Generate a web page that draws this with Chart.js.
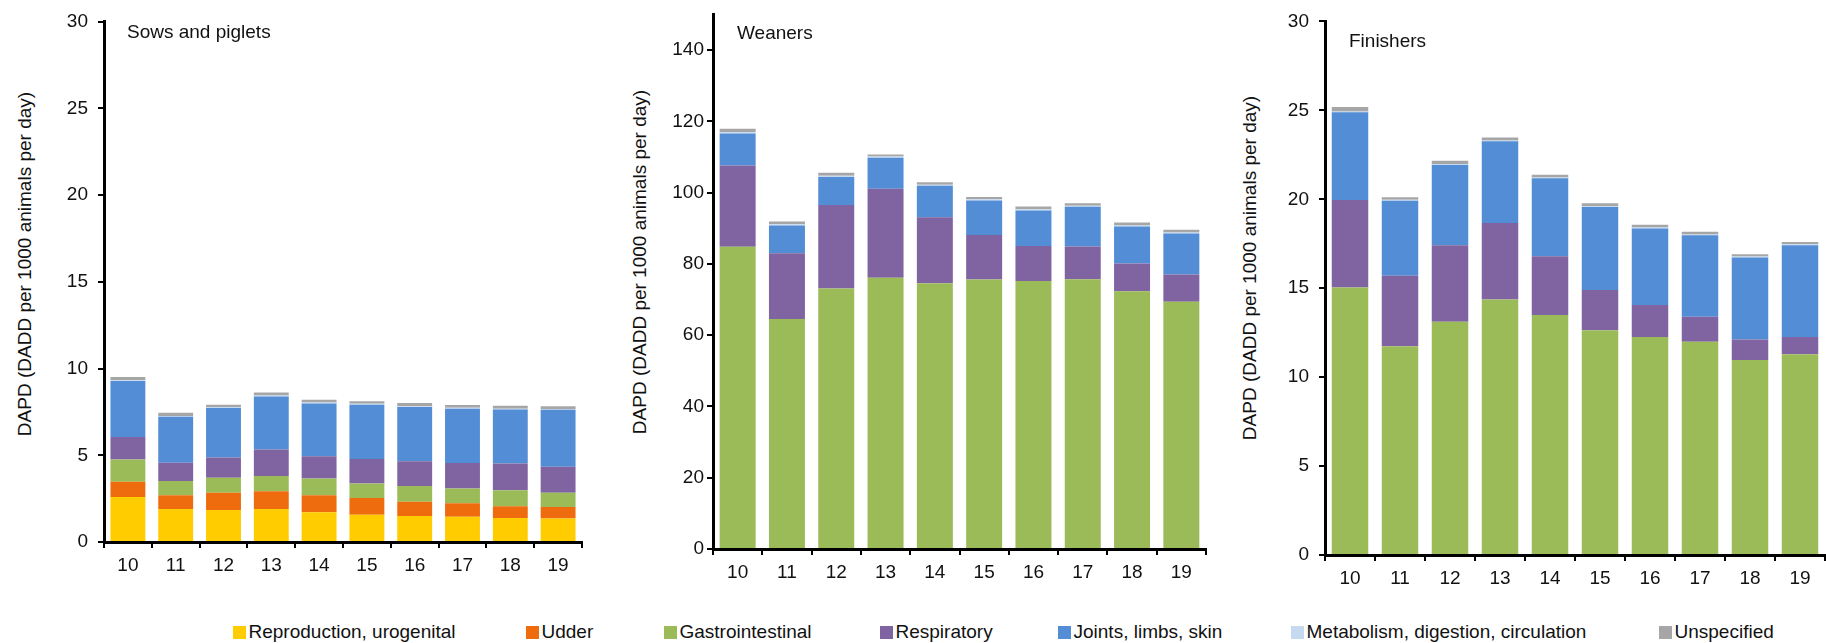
<!DOCTYPE html>
<html>
<head>
<meta charset="utf-8">
<script src="https://cdn.jsdelivr.net/npm/chart.js@4.4.1/dist/chart.umd.min.js"></script>
<style>
  body { margin: 0; background: #fff; }
  #wrap { position: relative; width: 1826px; height: 643px; font-family: 'Liberation Sans', Arial, sans-serif; color: #111; }
  canvas { position: absolute; top: 0; }
  .ttl { position: absolute; font-size: 19px; line-height: 22px; white-space: nowrap; }
  .ytl { position: absolute; font-size: 19px; white-space: nowrap; transform: translate(-50%, -50%) rotate(-90deg); }
  .leg { position: absolute; font-size: 19px; line-height: 22px; white-space: nowrap; }
  .leg span { position: absolute; width: 13px; height: 13px; left: -15.5px; top: 4.5px; }
</style>
</head>
<body>
<div id="wrap"></div>
<script>
var years = ['10', '11', '12', '13', '14', '15', '16', '17', '18', '19'];

var groups = ['Reproduction, urogenital', 'Udder', 'Gastrointestinal', 'Respiratory',
  'Joints, limbs, skin', 'Metabolism, digestion, circulation', 'Unspecified'];
var colors = ['#FFCC00', '#EE6C0E', '#9BBB59', '#8064A2', '#538DD5', '#C5D9F1', '#A6A6A6'];

// sows and piglets
var sowsRepro  = [2.60, 1.90, 1.85, 1.90, 1.71, 1.57, 1.50, 1.45, 1.38, 1.36];
var sowsUdder  = [0.87, 0.80, 0.99, 1.03, 0.99, 0.96, 0.82, 0.78, 0.68, 0.66];
var sowsGastro = [1.29, 0.82, 0.86, 0.87, 0.96, 0.84, 0.91, 0.86, 0.92, 0.82];
var sowsResp   = [1.29, 1.05, 1.17, 1.54, 1.28, 1.41, 1.43, 1.46, 1.54, 1.50];
var sowsJoints = [3.23, 2.65, 2.86, 3.05, 3.05, 3.14, 3.12, 3.14, 3.12, 3.28];
var sowsMetab  = [0.05, 0.05, 0.05, 0.05, 0.05, 0.05, 0.05, 0.05, 0.05, 0.05];
var sowsUnspec = [0.18, 0.18, 0.14, 0.18, 0.16, 0.14, 0.19, 0.16, 0.16, 0.16];

// weaners
var wean0      = [0, 0, 0, 0, 0, 0, 0, 0, 0, 0];
var weanGastro = [84.8, 64.5, 73.1, 76.1, 74.6, 75.6, 75.2, 75.7, 72.3, 69.4];
var weanResp   = [22.8, 18.5, 23.4, 25.0, 18.5, 12.5, 9.8, 9.2, 7.8, 7.6];
var weanJoints = [9.0, 7.8, 7.9, 8.7, 8.8, 9.7, 10.0, 11.1, 10.4, 11.5];
var weanMetab  = [0.3, 0.3, 0.3, 0.3, 0.3, 0.3, 0.3, 0.3, 0.3, 0.3];
var weanUnspec = [1.0, 0.8, 0.9, 0.6, 0.7, 0.7, 0.8, 0.7, 0.8, 0.8];

// finishers
var finGastro = [15.04, 11.73, 13.11, 14.37, 13.50, 12.63, 12.26, 11.99, 10.96, 11.28];
var finResp   = [4.92, 3.97, 4.31, 4.29, 3.30, 2.27, 1.79, 1.40, 1.16, 0.98];
var finJoints = [4.93, 4.22, 4.51, 4.60, 4.38, 4.67, 4.31, 4.58, 4.61, 5.16];
var finMetab  = [0.05, 0.05, 0.05, 0.05, 0.05, 0.05, 0.05, 0.05, 0.05, 0.05];
var finUnspec = [0.25, 0.15, 0.18, 0.16, 0.15, 0.16, 0.16, 0.16, 0.13, 0.13];

var yTitle = 'DAPD (DADD per 1000 animals per day)';
var FONT = "'Liberation Sans', Arial, sans-serif";
var wrap = document.getElementById('wrap');

function makePanel(p) {
  var yw = 60, xh = 40;
  var cv = document.createElement('canvas');
  var w = p.right - p.left + yw + 2;
  var h = p.bottom + xh;
  cv.width = w; cv.height = h;
  cv.style.left = (p.left - yw) + 'px';
  wrap.appendChild(cv);

  var datasets = p.series.map(function(vals, i) {
    return { label: groups[i], data: vals, backgroundColor: colors[i], borderWidth: 0,
      barPercentage: 0.73, categoryPercentage: 1 };
  });

  new Chart(cv.getContext('2d'), {
    type: 'bar',
    data: { labels: years, datasets: datasets },
    options: {
      responsive: false,
      animation: false,
      layout: { autoPadding: false, padding: { top: p.top, right: 2, left: 0, bottom: 0 } },
      plugins: { legend: { display: false }, tooltip: { enabled: false } },
      scales: {
        x: {
          stacked: true,
          afterFit: function(s) { s.height = xh; },
          grid: { display: true, offset: true, drawOnChartArea: false, drawTicks: true,
            tickLength: 6, color: '#000', lineWidth: 2 },
          border: { display: true, color: '#000', width: 3 },
          ticks: { color: '#111', font: { family: FONT, size: 19 }, padding: 6, maxRotation: 0 }
        },
        y: {
          stacked: true,
          min: 0, max: p.max,
          afterFit: function(s) { s.width = yw; },
          afterBuildTicks: function(s) { s.ticks = s.ticks.filter(function(t) { return t.value <= p.lastTick; }); },
          grid: { display: true, drawOnChartArea: false, drawTicks: true, tickLength: 6,
            color: '#000', lineWidth: 2 },
          border: { display: true, color: '#000', width: 3 },
          ticks: { stepSize: p.step, color: '#111', font: { family: FONT, size: 19 }, padding: p.pad }
        }
      }
    }
  });

  var t = document.createElement('div');
  t.className = 'ttl';
  t.textContent = p.title;
  t.style.left = p.titleX + 'px';
  t.style.top = (p.titleY - 11) + 'px';
  wrap.appendChild(t);

  var yt = document.createElement('div');
  yt.className = 'ytl';
  yt.textContent = yTitle;
  yt.style.left = p.ytX + 'px';
  yt.style.top = p.ytY + 'px';
  wrap.appendChild(yt);
}

makePanel({ title: 'Sows and piglets', left: 104, right: 582, top: 21.7, bottom: 542.5,
  max: 30, step: 5, lastTick: 30, pad: 10, titleX: 127, titleY: 32, ytX: 25, ytY: 264,
  series: [sowsRepro, sowsUdder, sowsGastro, sowsResp, sowsJoints, sowsMetab, sowsUnspec] });

makePanel({ title: 'Weaners', left: 712.5, right: 1205.6, top: 13.3, bottom: 549,
  max: 150, step: 20, lastTick: 140, pad: 3, titleX: 737, titleY: 33, ytX: 640, ytY: 262,
  series: [wean0, wean0, weanGastro, weanResp, weanJoints, weanMetab, weanUnspec] });

makePanel({ title: 'Finishers', left: 1324.5, right: 1825, top: 20.3, bottom: 555.5,
  max: 30, step: 5, lastTick: 30, pad: 10, titleX: 1349, titleY: 41, ytX: 1250, ytY: 268,
  series: [wean0, wean0, finGastro, finResp, finJoints, finMetab, finUnspec] });

// legend along the bottom
var legendX = [233, 526, 664, 880, 1058, 1291, 1659];
groups.forEach(function(name, i) {
  var d = document.createElement('div');
  d.className = 'leg';
  d.style.left = (legendX[i] + 15.5) + 'px';
  d.style.top = '621px';
  var box = document.createElement('span');
  box.style.background = colors[i];
  d.appendChild(box);
  d.appendChild(document.createTextNode(name));
  wrap.appendChild(d);
});
</script>
</body>
</html>
